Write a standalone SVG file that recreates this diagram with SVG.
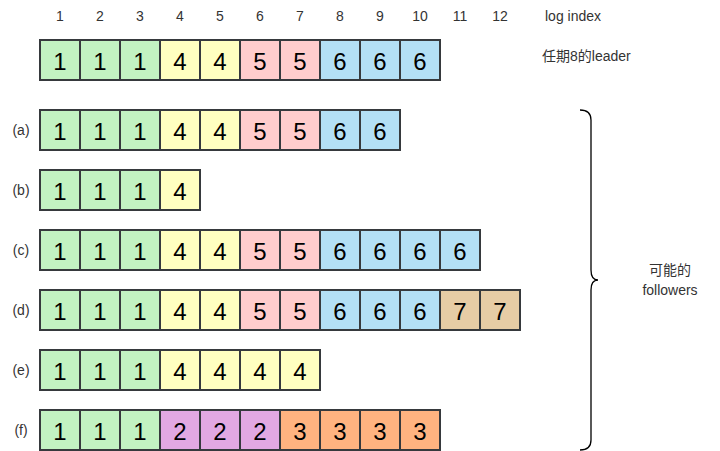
<svg xmlns="http://www.w3.org/2000/svg" width="720" height="451" viewBox="0 0 720 451">
<style>
rect{stroke:#36393d;stroke-width:2}
.g{fill:#c2f2c2}.y{fill:#ffffc0}.p{fill:#ffcccc}.b{fill:#b3dff5}.t{fill:#e6cca5}.m{fill:#e2a8e2}.o{fill:#ffb380}
.n{font-family:"Liberation Sans",Arial,sans-serif;font-size:24px;fill:#000;text-anchor:middle;dominant-baseline:central}
.s{font-family:"Liberation Sans","Noto Sans CJK SC",Arial,sans-serif;font-size:14px;fill:#333;dominant-baseline:central}
.c{text-anchor:middle}
</style>
<g id="header">
<text class="s c" x="60" y="16">1</text><text class="s c" x="100" y="16">2</text><text class="s c" x="140" y="16">3</text><text class="s c" x="180" y="16">4</text><text class="s c" x="220" y="16">5</text><text class="s c" x="260" y="16">6</text><text class="s c" x="300" y="16">7</text><text class="s c" x="340" y="16">8</text><text class="s c" x="380" y="16">9</text><text class="s c" x="420" y="16">10</text><text class="s c" x="460" y="16">11</text><text class="s c" x="500" y="16">12</text>
<text class="s" x="545" y="16">log index</text>
<text class="s" x="542" y="56">任期8的leader</text>
</g>
<g id="leader">
<rect class="g" x="40" y="40" width="40" height="40"/><rect class="g" x="80" y="40" width="40" height="40"/><rect class="g" x="120" y="40" width="40" height="40"/><rect class="y" x="160" y="40" width="40" height="40"/><rect class="y" x="200" y="40" width="40" height="40"/><rect class="p" x="240" y="40" width="40" height="40"/><rect class="p" x="280" y="40" width="40" height="40"/><rect class="b" x="320" y="40" width="40" height="40"/><rect class="b" x="360" y="40" width="40" height="40"/><rect class="b" x="400" y="40" width="40" height="40"/>
<text class="n" x="60" y="61">1</text><text class="n" x="100" y="61">1</text><text class="n" x="140" y="61">1</text><text class="n" x="180" y="61">4</text><text class="n" x="220" y="61">4</text><text class="n" x="260" y="61">5</text><text class="n" x="300" y="61">5</text><text class="n" x="340" y="61">6</text><text class="n" x="380" y="61">6</text><text class="n" x="420" y="61">6</text>
</g>
<g id="row-a">
<text class="s c" x="21" y="130">(a)</text>
<rect class="g" x="40" y="110" width="40" height="40"/><rect class="g" x="80" y="110" width="40" height="40"/><rect class="g" x="120" y="110" width="40" height="40"/><rect class="y" x="160" y="110" width="40" height="40"/><rect class="y" x="200" y="110" width="40" height="40"/><rect class="p" x="240" y="110" width="40" height="40"/><rect class="p" x="280" y="110" width="40" height="40"/><rect class="b" x="320" y="110" width="40" height="40"/><rect class="b" x="360" y="110" width="40" height="40"/>
<text class="n" x="60" y="131">1</text><text class="n" x="100" y="131">1</text><text class="n" x="140" y="131">1</text><text class="n" x="180" y="131">4</text><text class="n" x="220" y="131">4</text><text class="n" x="260" y="131">5</text><text class="n" x="300" y="131">5</text><text class="n" x="340" y="131">6</text><text class="n" x="380" y="131">6</text>
</g>
<g id="row-b">
<text class="s c" x="21" y="190">(b)</text>
<rect class="g" x="40" y="170" width="40" height="40"/><rect class="g" x="80" y="170" width="40" height="40"/><rect class="g" x="120" y="170" width="40" height="40"/><rect class="y" x="160" y="170" width="40" height="40"/>
<text class="n" x="60" y="191">1</text><text class="n" x="100" y="191">1</text><text class="n" x="140" y="191">1</text><text class="n" x="180" y="191">4</text>
</g>
<g id="row-c">
<text class="s c" x="21" y="250">(c)</text>
<rect class="g" x="40" y="230" width="40" height="40"/><rect class="g" x="80" y="230" width="40" height="40"/><rect class="g" x="120" y="230" width="40" height="40"/><rect class="y" x="160" y="230" width="40" height="40"/><rect class="y" x="200" y="230" width="40" height="40"/><rect class="p" x="240" y="230" width="40" height="40"/><rect class="p" x="280" y="230" width="40" height="40"/><rect class="b" x="320" y="230" width="40" height="40"/><rect class="b" x="360" y="230" width="40" height="40"/><rect class="b" x="400" y="230" width="40" height="40"/><rect class="b" x="440" y="230" width="40" height="40"/>
<text class="n" x="60" y="251">1</text><text class="n" x="100" y="251">1</text><text class="n" x="140" y="251">1</text><text class="n" x="180" y="251">4</text><text class="n" x="220" y="251">4</text><text class="n" x="260" y="251">5</text><text class="n" x="300" y="251">5</text><text class="n" x="340" y="251">6</text><text class="n" x="380" y="251">6</text><text class="n" x="420" y="251">6</text><text class="n" x="460" y="251">6</text>
</g>
<g id="row-d">
<text class="s c" x="21" y="310">(d)</text>
<rect class="g" x="40" y="290" width="40" height="40"/><rect class="g" x="80" y="290" width="40" height="40"/><rect class="g" x="120" y="290" width="40" height="40"/><rect class="y" x="160" y="290" width="40" height="40"/><rect class="y" x="200" y="290" width="40" height="40"/><rect class="p" x="240" y="290" width="40" height="40"/><rect class="p" x="280" y="290" width="40" height="40"/><rect class="b" x="320" y="290" width="40" height="40"/><rect class="b" x="360" y="290" width="40" height="40"/><rect class="b" x="400" y="290" width="40" height="40"/><rect class="t" x="440" y="290" width="40" height="40"/><rect class="t" x="480" y="290" width="40" height="40"/>
<text class="n" x="60" y="311">1</text><text class="n" x="100" y="311">1</text><text class="n" x="140" y="311">1</text><text class="n" x="180" y="311">4</text><text class="n" x="220" y="311">4</text><text class="n" x="260" y="311">5</text><text class="n" x="300" y="311">5</text><text class="n" x="340" y="311">6</text><text class="n" x="380" y="311">6</text><text class="n" x="420" y="311">6</text><text class="n" x="460" y="311">7</text><text class="n" x="500" y="311">7</text>
</g>
<g id="row-e">
<text class="s c" x="21" y="370">(e)</text>
<rect class="g" x="40" y="350" width="40" height="40"/><rect class="g" x="80" y="350" width="40" height="40"/><rect class="g" x="120" y="350" width="40" height="40"/><rect class="y" x="160" y="350" width="40" height="40"/><rect class="y" x="200" y="350" width="40" height="40"/><rect class="y" x="240" y="350" width="40" height="40"/><rect class="y" x="280" y="350" width="40" height="40"/>
<text class="n" x="60" y="371">1</text><text class="n" x="100" y="371">1</text><text class="n" x="140" y="371">1</text><text class="n" x="180" y="371">4</text><text class="n" x="220" y="371">4</text><text class="n" x="260" y="371">4</text><text class="n" x="300" y="371">4</text>
</g>
<g id="row-f">
<text class="s c" x="21" y="430">(f)</text>
<rect class="g" x="40" y="410" width="40" height="40"/><rect class="g" x="80" y="410" width="40" height="40"/><rect class="g" x="120" y="410" width="40" height="40"/><rect class="m" x="160" y="410" width="40" height="40"/><rect class="m" x="200" y="410" width="40" height="40"/><rect class="m" x="240" y="410" width="40" height="40"/><rect class="o" x="280" y="410" width="40" height="40"/><rect class="o" x="320" y="410" width="40" height="40"/><rect class="o" x="360" y="410" width="40" height="40"/><rect class="o" x="400" y="410" width="40" height="40"/>
<text class="n" x="60" y="431">1</text><text class="n" x="100" y="431">1</text><text class="n" x="140" y="431">1</text><text class="n" x="180" y="431">2</text><text class="n" x="220" y="431">2</text><text class="n" x="260" y="431">2</text><text class="n" x="300" y="431">3</text><text class="n" x="340" y="431">3</text><text class="n" x="380" y="431">3</text><text class="n" x="420" y="431">3</text>
</g>
<g id="connectors">
<path d="M580 110 Q591 110 591 120 L591 270 Q591 280 598 280 Q591 280 591 290 L591 440 Q591 450 580 450" fill="none" stroke="#000" stroke-width="1.3"/>
</g>
<g id="brace-label">
<text class="s c" x="670" y="270">可能的</text>
<text class="s c" x="670" y="290">followers</text>
</g>
</svg>
